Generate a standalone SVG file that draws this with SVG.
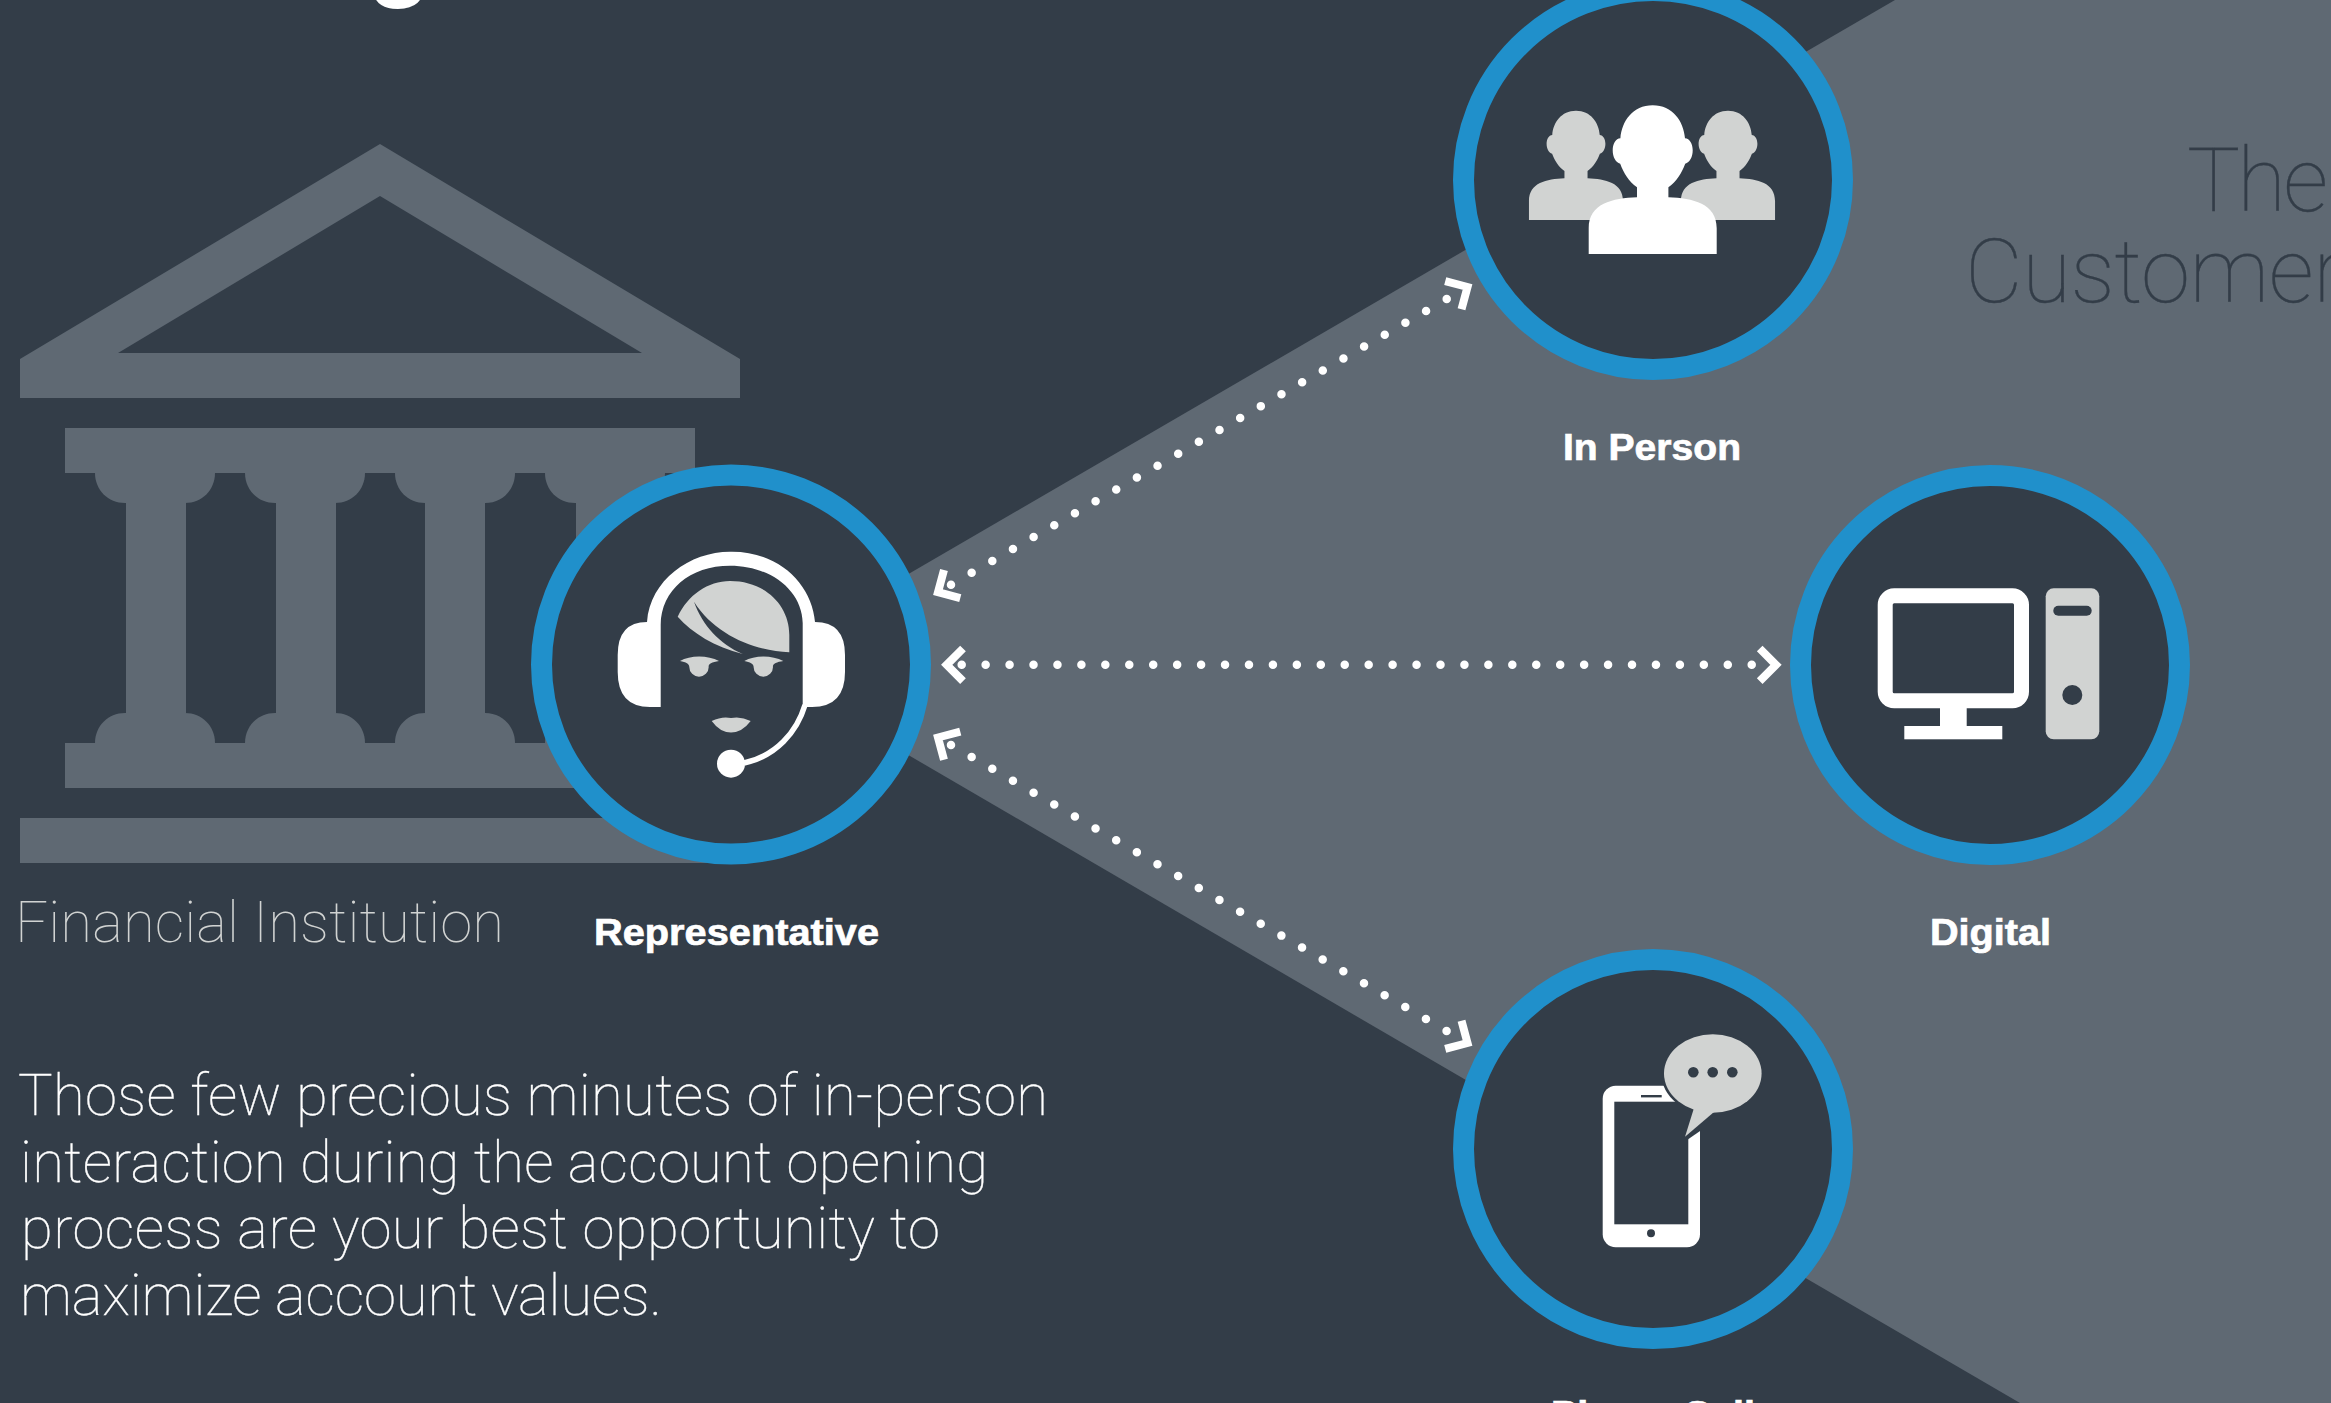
<svg xmlns="http://www.w3.org/2000/svg" width="2331" height="1403" viewBox="0 0 2331 1403">
<style>
.dark{fill:#333d48}
.slate{fill:#5f6973}
.white{fill:#fff}
.grey{fill:#d1d3d2}
.ring{fill:#333d48;stroke:#2090cb;stroke-width:21}
.dots{fill:none;stroke:#fff;stroke-width:8.5;stroke-linecap:round}
.head{fill:none;stroke:#fff;stroke-width:8;stroke-linejoin:miter}
.label{font-family:"Liberation Sans",Arial,sans-serif;font-weight:700;font-size:37px;fill:#fff;stroke:#fff;stroke-width:.7}
.thin{font-family:Roboto,"Liberation Sans",sans-serif;font-weight:100;font-size:58px;stroke-width:.35}
</style>
<defs>
<marker id="arrow" markerUnits="userSpaceOnUse" viewBox="-10 -25 40 50" markerWidth="40" markerHeight="50" refX="0" refY="0" orient="auto-start-reverse">
<polyline class="head" points="-1.3,-16.3 15,0 -1.3,16.3"/>
</marker>
<path id="person" d="M0 0C20 0 31 16 32.3 33C37 33 40 39 40 45C40 52 37 57 32.5 58.5C29 68 24 76 15.7 82V92C40 93 64 98 64 123V148.7H-64V123C-64 98-40 93-15.7 92V82C-24 76-29 68-32.5 58.5C-37 57-40 52-40 45C-40 39-37 33-32.3 33C-31 16-20 0 0 0Z"/>
<path id="eye" d="M680 661C690 655 708 655 719 661C712 662 708 664 708.7 667A9.7 9.7 0 0 1 689.3 667C689.5 664 686 662 680 661Z"/>
</defs>
<rect class="dark" width="2331" height="1403"/>
<polygon id="customer-zone" class="slate" points="753,664.5 1895,0 2331,0 2331,1403 2020,1403"/>
<text id="heading" x="367" y="-13.5" font-family="Liberation Sans, Arial, sans-serif" font-weight="700" font-size="106" fill="#fff">g</text>
<g id="bank" class="slate">
<path fill-rule="evenodd" d="M380 144L740 359V398H20V359ZM380 196L118 353H642Z"/>
<rect x="65" y="428" width="630" height="45"/>
<path d="M95 473C95 490 108 503 125 503H185C202 503 215 490 215 473Z"/>
<path d="M245 473C245 490 258 503 275 503H335C352 503 365 490 365 473Z"/>
<path d="M395 473C395 490 408 503 425 503H485C502 503 515 490 515 473Z"/>
<path d="M545 473C545 490 558 503 575 503H635C652 503 665 490 665 473Z"/>
<rect x="126" y="500" width="60" height="216"/>
<rect x="276" y="500" width="60" height="216"/>
<rect x="425" y="500" width="60" height="216"/>
<rect x="576" y="500" width="60" height="216"/>
<path d="M95 743C95 726 108 713 125 713H185C202 713 215 726 215 743Z"/>
<path d="M245 743C245 726 258 713 275 713H335C352 713 365 726 365 743Z"/>
<path d="M395 743C395 726 408 713 425 713H485C502 713 515 726 515 743Z"/>
<path d="M545 743C545 726 558 713 575 713H635C652 713 665 726 665 743Z"/>
<rect x="65" y="743" width="630" height="45"/>
<rect x="20" y="818" width="720" height="45"/>
</g>
<g id="connectors">
<line class="dots" x1="951" y1="584.7" x2="1454.5" y2="294.5" stroke-dasharray="0 23.84" marker-start="url(#arrow)" marker-end="url(#arrow)"/>
<line class="dots" x1="961.7" y1="664.8" x2="1761" y2="664.8" stroke-dasharray="0 23.94" marker-start="url(#arrow)" marker-end="url(#arrow)"/>
<line class="dots" x1="951" y1="745" x2="1454.5" y2="1035.5" stroke-dasharray="0 23.84" marker-start="url(#arrow)" marker-end="url(#arrow)"/>
</g>
<g id="representative">
<circle class="ring" cx="731" cy="664.5" r="189.5"/>
<path class="white" d="M660.7 707H650Q617.7 707 617.7 672V655Q617.7 622 647 622C650 580 690 551.7 730 551.7H732C780 551.7 812 585 815 622Q845 622 845 655V672Q845 707 812 707H802.7V623C802 590 770 565.7 730 565.7C690 565.7 661 590 660.7 625Z"/>
<path d="M805 705C797 732 776 756 744 763" fill="none" stroke="#fff" stroke-width="5.5"/>
<circle class="white" cx="731" cy="763.7" r="14"/>
<path class="grey" d="M677.7 616.7C688 595 708 581 730 581C765 581 789.3 605 789.3 635V652.3C755 651 715 635 694 601.7C702 625 720 644 742.7 654C715 647 692 633 677.7 616.7Z"/>
<use href="#eye" class="grey"/>
<use href="#eye" class="grey" transform="translate(64.3 0)"/>
<path class="grey" d="M711.7 721Q722 716 731 718Q741 716 750.7 721Q742 732.5 731 732.5Q720 732.5 711.7 721Z"/>
<text class="label" x="594" y="945" textLength="285" lengthAdjust="spacingAndGlyphs">Representative</text>
</g>
<g id="in-person">
<circle class="ring" cx="1653" cy="180" r="189.5"/>
<use href="#person" class="grey" transform="translate(1576 110.7) scale(.735)"/>
<use href="#person" class="grey" transform="translate(1728 110.7) scale(.735)"/>
<use href="#person" class="white" transform="translate(1652.7 105.3)"/>
<text class="label" x="1563" y="460" textLength="178" lengthAdjust="spacingAndGlyphs">In Person</text>
</g>
<g id="digital">
<circle class="ring" cx="1990" cy="665" r="189.5"/>
<rect x="1885.2" y="595.8" width="136.3" height="105" rx="9" fill="none" stroke="#fff" stroke-width="15"/>
<rect class="white" x="1940" y="705" width="26.7" height="24"/>
<rect class="white" x="1904.3" y="726" width="98" height="13.3"/>
<rect class="grey" x="2045.7" y="588.3" width="53.6" height="151" rx="8"/>
<rect class="dark" x="2053.3" y="605.7" width="38.4" height="10" rx="5"/>
<circle class="dark" cx="2072.3" cy="695" r="10"/>
<text class="label" x="1930" y="945" textLength="121" lengthAdjust="spacingAndGlyphs">Digital</text>
</g>
<g id="phone-call">
<circle class="ring" cx="1653" cy="1149" r="189.5"/>
<rect class="white" x="1602.7" y="1085.7" width="97.3" height="161.6" rx="13"/>
<rect class="dark" x="1614.3" y="1101.7" width="74" height="122.6"/>
<rect class="dark" x="1641" y="1095" width="20.7" height="2.4"/>
<circle class="dark" cx="1651" cy="1233.3" r="4"/>
<polygon class="dark" points="1687,1140 1703,1129 1703,1095 1687,1095"/>
<ellipse class="grey" cx="1712.8" cy="1073.5" rx="48.8" ry="39.2" stroke="#333d48" stroke-width="5" paint-order="stroke"/>
<polygon class="grey" points="1694,1108 1685,1136.7 1714,1112"/>
<circle class="dark" cx="1693.3" cy="1072.3" r="5.3"/>
<circle class="dark" cx="1712.7" cy="1072.3" r="5.3"/>
<circle class="dark" cx="1732.3" cy="1072.3" r="5.3"/>
<text class="label" x="1551" y="1427" textLength="204" lengthAdjust="spacingAndGlyphs">Phone Call</text>
</g>
<g id="financial-institution">
<text class="thin" x="15" y="942" fill="#d1d3d2" textLength="489">Financial Institution</text>
</g>
<g id="customer-title" class="dark">
<text class="thin" x="2187" y="211" stroke="#333d48" style="font-size:89px" textLength="141">The</text>
<text class="thin" x="1965" y="302" stroke="#333d48" style="font-size:89px" textLength="378">Customer</text>
</g>
<g id="body-copy" fill="#fff" stroke="#fff">
<text class="thin" x="18" y="1115" textLength="1030">Those few precious minutes of in-person</text>
<text class="thin" x="20" y="1182" textLength="968">interaction during the account opening</text>
<text class="thin" x="21" y="1248" textLength="919">process are your best opportunity to</text>
<text class="thin" x="20" y="1315" textLength="642">maximize account values.</text>
</g>
</svg>
